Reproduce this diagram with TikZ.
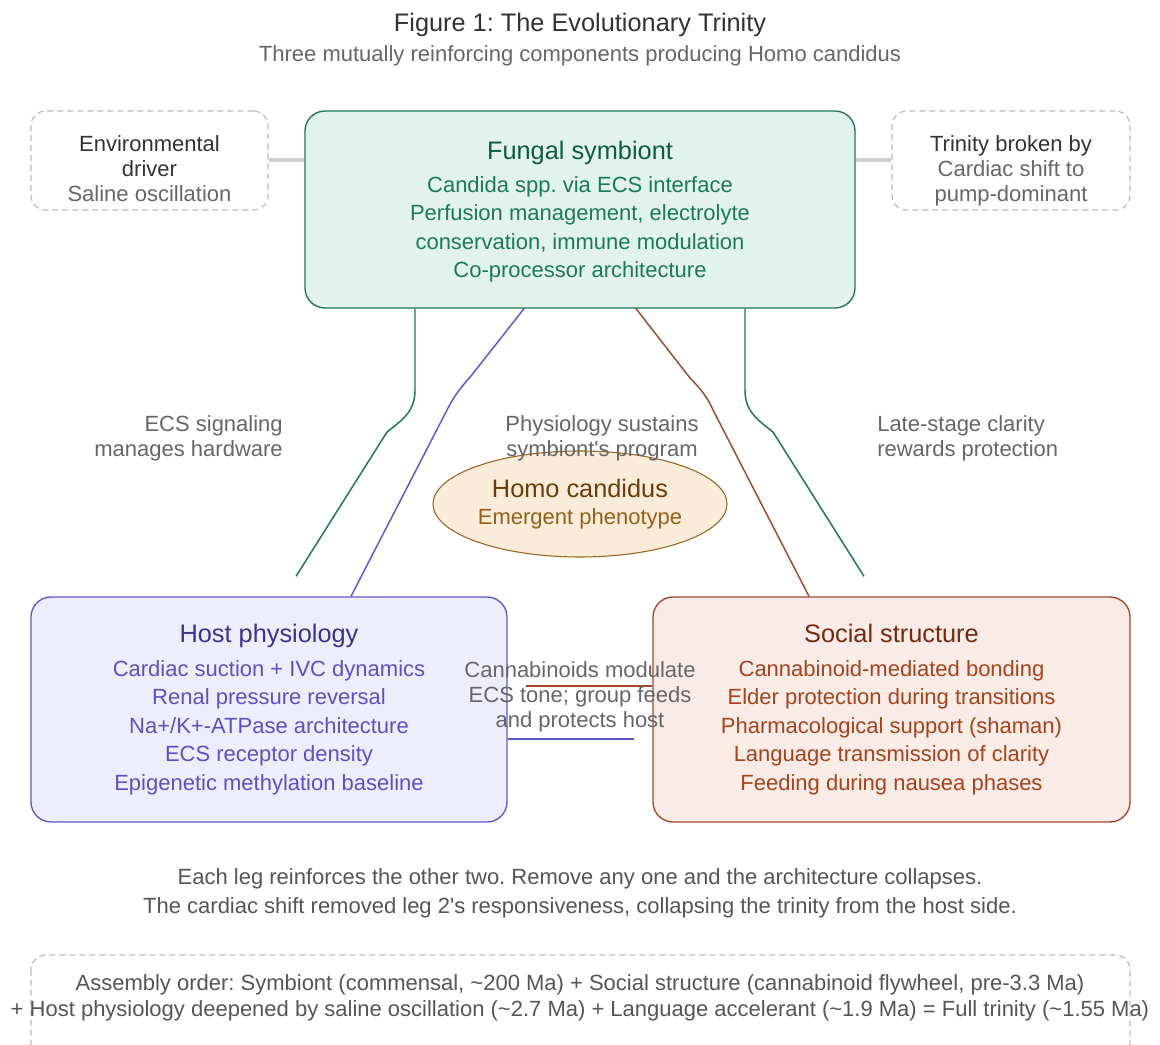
\documentclass[tikz,border=0pt]{standalone}
\usepackage{fontspec}
\setmainfont{Liberation Sans}[Ligatures=TeXOff]
\usetikzlibrary{shapes.geometric,calc}
\frenchspacing

\definecolor{inkdark}{HTML}{333333}
\definecolor{inkgray}{HTML}{666666}
\definecolor{notegray}{HTML}{555555}
\definecolor{dashgray}{HTML}{BBBBBB}
\definecolor{stubgray}{HTML}{D0D0D0}
\definecolor{fungfill}{HTML}{E1F3EC}
\definecolor{fungline}{HTML}{1B7656}
\definecolor{fungtitle}{HTML}{0F5A40}
\definecolor{fungtext}{HTML}{1C7A58}
\definecolor{hostfill}{HTML}{EEEDFC}
\definecolor{hostline}{HTML}{5E57C9}
\definecolor{hosttitle}{HTML}{3B338F}
\definecolor{hosttext}{HTML}{5A52C2}
\definecolor{socfill}{HTML}{F9EBE5}
\definecolor{socline}{HTML}{A3472C}
\definecolor{soctitle}{HTML}{75290F}
\definecolor{soctext}{HTML}{A6431F}
\definecolor{homofill}{HTML}{FAECD8}
\definecolor{homoline}{HTML}{9A6420}
\definecolor{homotitle}{HTML}{6A3D0A}
\definecolor{homotext}{HTML}{94601B}

\newcommand{\trinbody}{\fontsize{16.5}{21.4}\selectfont}
\newcommand{\trinhead}{\fontsize{19}{24}\selectfont}

\begin{document}
\begin{tikzpicture}[x=0.75pt, y=-0.75pt,
  mainbox/.style={draw, line width=1pt, rounded corners=15pt, align=center, inner sep=0pt, font=\trinbody},
  dashbox/.style={draw=dashgray, line width=0.9pt, dash pattern=on 4.5pt off 3pt, rounded corners=11pt},
  boxtext/.style={align=center, inner sep=0pt, font=\fontsize{16.5}{18.75}\selectfont, text=inkgray},
  edgelabel/.style={align=center, inner sep=0pt, text=inkgray, font=\fontsize{16.5}{18.4}\selectfont},
  link/.style={line width=1.1pt},
  stub/.style={draw=stubgray, line width=3pt}]
  \useasboundingbox (0,0) rectangle (1160,1045);
  \clip (0,0) rectangle (1160,1045);

  % heading
  \node[inner sep=0pt, text=inkdark, font=\trinhead] (title) at (580,25) {Figure 1: The Evolutionary Trinity};
  \node[inner sep=0pt, text=inkgray, font=\fontsize{16.5}{20}\selectfont] (subtitle) at (580,56) {Three mutually reinforcing components producing Homo candidus};

  % the three legs
  \node[mainbox, fill=fungfill, draw=fungline, text=fungtext, minimum width=412.5pt, minimum height=147.75pt] (fungal) at (580,209.5)
    {{\trinhead\color{fungtitle}\rule{0pt}{17pt}Fungal symbiont}\\[3pt]
     Candida spp. via ECS interface\\ Perfusion management, electrolyte\\ conservation, immune modulation\\ Co-processor architecture};
  \node[mainbox, fill=hostfill, draw=hostline, text=hosttext, minimum width=357pt, minimum height=168.75pt] (host) at (269,709.5)
    {{\trinhead\color{hosttitle}Host physiology}\\[4pt]
     Cardiac suction + IVC dynamics\\ Renal pressure reversal\\ Na+/K+-ATPase architecture\\ ECS receptor density\\ Epigenetic methylation baseline};
  \node[mainbox, fill=socfill, draw=socline, text=soctext, minimum width=357.75pt, minimum height=168.75pt] (social) at (891.5,709.5)
    {{\trinhead\color{soctitle}Social structure}\\[4pt]
     Cannabinoid-mediated bonding\\ Elder protection during transitions\\ Pharmacological support (shaman)\\ Language transmission of clarity\\ Feeding during nausea phases};

  % side notes
  \node[dashbox, minimum width=177.75pt, minimum height=74.25pt] (envbox) at (149.5,160.5) {};
  \node[boxtext] (envtext) at (149.5,169) {\textcolor{inkdark}{Environmental}\\ \textcolor{inkdark}{driver}\\ Saline oscillation};
  \node[dashbox, minimum width=178.5pt, minimum height=74.25pt] (breakbox) at (1011,160.5) {};
  \node[boxtext] (breaktext) at (1011,170.5) {\textcolor{inkdark}{Trinity broken by}\\ Cardiac shift to\\ pump-dominant};
  \draw[stub] (envbox.east) -- (envbox.east -| fungal.west);
  \draw[stub] (fungal.east |- breakbox.west) -- (breakbox.west);

  \node[ellipse, draw=homoline, fill=homofill, line width=0.8pt, minimum width=220.5pt, minimum height=79.5pt, inner sep=0pt,
        align=center, text=homotext, font=\trinbody] (homo) at (580,504)
    {{\trinhead\color{homotitle}Homo candidus}\\[-1.5pt] Emergent phenotype};

  % connectors
  \draw[link, fungline] ($(fungal.south)+(-165,0)$) -- (415,390) .. controls (415,412) and (402,420) .. (387,432) -- ($(host.north)+(27,-20)$);
  \draw[link, hostline] ($(host.north)+(82,0)$) -- (447,410) .. controls (453,398) and (460,388) .. (471,376) -- ($(fungal.south)+(-56,0)$);
  \draw[link, socline] ($(social.north)+(-82.5,0)$) -- (713,410) .. controls (708,398) and (700,388) .. (690,378) -- ($(fungal.south)+(56,0)$);
  \draw[link, fungline] ($(fungal.south)+(165,0)$) -- (745,390) .. controls (745,412) and (758,420) .. (773,432) -- ($(social.north)+(-27.5,-20)$);
  \draw[link, socline] ($(social.west)+(0,-23.5)$) -- ($(host.east)+(18,-23.5)$);
  \draw[link, hostline] ($(host.east)+(0,29.5)$) -- ($(social.west)+(-18,29.5)$);

  \node[edgelabel, anchor=east, align=right] (lblsignal) at (283,438.5) {ECS signaling\\manages hardware};
  \node[edgelabel] (lblsustain) at (602,438.5) {Physiology sustains\\symbiont's program};
  \node[edgelabel, anchor=west, align=left] (lblclarity) at (877,438.5) {Late-stage clarity\\rewards protection};
  \node[edgelabel, font=\fontsize{16.5}{18.75}\selectfont] (lblcanna) at (580,697) {Cannabinoids modulate\\ECS tone; group feeds\\and protects host};

  % footnotes
  \node[align=center, inner sep=0pt, text=notegray, font=\fontsize{16.5}{21.75}\selectfont] (legnote) at (580,893.5)
    {Each leg reinforces the other two. Remove any one and the architecture collapses.\\
     The cardiac shift removed leg 2's responsiveness, collapsing the trinity from the host side.};
  \draw[dashbox] (31,955) rectangle (1130,1080);
  \node[align=center, inner sep=0pt, text=notegray, font=\fontsize{16.5}{19.5}\selectfont] (assembly) at (580,998)
    {Assembly order: Symbiont (commensal, \textasciitilde 200 Ma) + Social structure (cannabinoid flywheel, pre-3.3 Ma)\\
     + Host physiology deepened by saline oscillation (\textasciitilde 2.7 Ma) + Language accelerant (\textasciitilde 1.9 Ma) = Full trinity (\textasciitilde 1.55 Ma)};
\end{tikzpicture}
\end{document}
